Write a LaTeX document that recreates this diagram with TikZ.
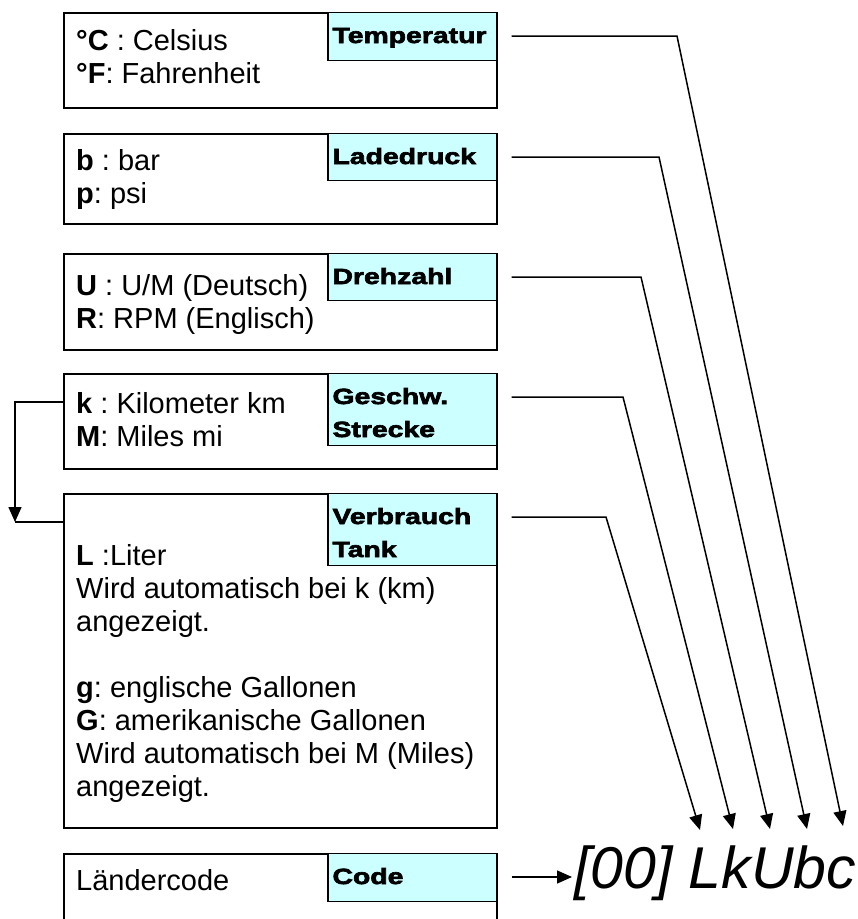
\documentclass[tikz,border=0pt]{standalone}
\usepackage{fontspec}
\setmainfont{Liberation Sans}
\newfontfamily\lblfont[FakeStretch=1.29,FakeBold=3]{Liberation Sans}
\usetikzlibrary{arrows.meta,calc}
\definecolor{lblcyan}{HTML}{CCFFFF}
\frenchspacing
\begin{document}
\begin{tikzpicture}[x=1pt,y=-1pt,
  box/.style={draw, line width=1.6pt, fill=white, inner sep=0pt, anchor=north west, minimum width=433pt},
  lbl/.style={draw, line width=1.3pt, fill=lblcyan, inner sep=0pt, anchor=north east, minimum width=169pt},
  txt/.style={anchor=base west, inner sep=0pt, font=\fontsize{29}{33}\selectfont},
  lbltxt/.style={anchor=base west, inner sep=0pt, font=\lblfont\bfseries\fontsize{22}{33}\selectfont},
  conn/.style={line width=1.5pt},
  arr/.style={conn, -{Triangle[length=15pt,width=13pt]}}]
\useasboundingbox (0,0) rectangle (858,919);

% boxes
\node[box, minimum height=95pt] (b1) at (63,12) {};
\node[box, minimum height=90pt] (b2) at (63,133) {};
\node[box, minimum height=96pt] (b3) at (63,253) {};
\node[box, minimum height=95pt] (b4) at (63,373) {};
\node[box, minimum height=334pt] (b5) at (63,493) {};
\node[box, minimum height=75pt] (b6) at (63,853) {};

% labels
\node[lbl, minimum height=48pt] (l1) at (b1.north east) {};
\node[lbl, minimum height=47pt] (l2) at (b2.north east) {};
\node[lbl, minimum height=47pt] (l3) at (b3.north east) {};
\node[lbl, minimum height=72pt] (l4) at (b4.north east) {};
\node[lbl, minimum height=72pt] (l5) at (b5.north east) {};
\node[lbl, minimum height=48pt] (l6) at (b6.north east) {};

\node[lbltxt] (lt1) at ($(l1.north west)+(5,31)$) {Temperatur};
\node[lbltxt] (lt2) at ($(l2.north west)+(5,31)$) {Ladedruck};
\node[lbltxt] (lt3) at ($(l3.north west)+(5,31)$) {Drehzahl};
\node[lbltxt] (lt4) at ($(l4.north west)+(5,31)$) {\parbox[t]{160pt}{Geschw.\\Strecke}};
\node[lbltxt] (lt5) at ($(l5.north west)+(5,31)$) {\parbox[t]{160pt}{Verbrauch\\Tank}};
\node[lbltxt] (lt6) at ($(l6.north west)+(5,31)$) {Code};

% body texts
\node[txt] (t1) at (76,50) {\parbox[t]{250pt}{\textbf{°C} : Celsius\\\textbf{°F}: Fahrenheit}};
\node[txt] (t2) at (76,170) {\parbox[t]{250pt}{\textbf{b} : bar\\\textbf{p}: psi}};
\node[txt] (t3) at (76,295) {\parbox[t]{260pt}{\textbf{U} : U/M (Deutsch)\\\textbf{R}: RPM (Englisch)}};
\node[txt] (t4) at (76,413) {\parbox[t]{250pt}{\textbf{k} : Kilometer km\\\textbf{M}: Miles mi}};
\node[txt] (t5) at (76,565) {\parbox[t]{420pt}{\textbf{L} :Liter\\Wird automatisch bei k (km)\\angezeigt.\\[33pt]\textbf{g}: englische Gallonen\\\textbf{G}: amerikanische Gallonen\\Wird automatisch bei M (Miles)\\angezeigt.}};
\node[txt] (t6) at (76,890) {Ländercode};

% code text
\node[anchor=base west, inner sep=0pt, font=\fontsize{59}{59}\selectfont\itshape] (code) at (574,888) {[00] LkUbc};

% connector points
\coordinate (k1) at (677,36);
\coordinate (k2) at (659,157);
\coordinate (k3) at (641,277);
\coordinate (k4) at (623,397);
\coordinate (k5) at (606,517);
\coordinate (e1) at (843,826);
\coordinate (e2) at (807,829);
\coordinate (e3) at (770,829);
\coordinate (e4) at (733,829);
\coordinate (e5) at (700,830);
\coordinate (lc) at (15,522);
\coordinate (ce) at (572,877);

\draw[arr] ($(l1.north east)+(14,24)$) -- (k1) -- (e1);
\draw[arr] ($(l2.north east)+(14,24)$) -- (k2) -- (e2);
\draw[arr] ($(l3.north east)+(14,24)$) -- (k3) -- (e3);
\draw[arr] ($(l4.north east)+(14,24)$) -- (k4) -- (e4);
\draw[arr] ($(l5.north east)+(14,24)$) -- (k5) -- (e5);
\draw[arr] ($(l6.north east)+(14,24)$) -- (ce);

\draw[arr] ($(b4.north west)+(0,29)$) -| (lc);
\draw[conn] (lc) -- (b5.west |- lc);
\end{tikzpicture}
\end{document}
